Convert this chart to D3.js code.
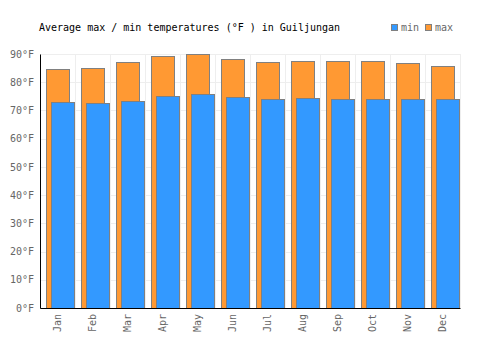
<!DOCTYPE html>
<html>
<head>
<meta charset="utf-8">
<script src="https://cdn.jsdelivr.net/npm/d3@7"></script>
<style>
  body { margin: 0; background: #fff; }
  text { font-family: "DejaVu Sans Mono", monospace; font-size: 10px; }
</style>
</head>
<body>
<div id="chart"></div>
<script>
const months = ["Jan", "Feb", "Mar", "Apr", "May", "Jun", "Jul", "Aug", "Sep", "Oct", "Nov", "Dec"];
const maxTemps = [84.6, 84.9, 87.1, 89.2, 89.9, 88.1, 87.1, 87.4, 87.4, 87.4, 86.7, 85.6];
const minTemps = [72.9, 72.5, 73.2, 75.0, 75.7, 74.7, 74.0, 74.3, 74.0, 74.0, 74.0, 74.0];
const yTicks = [0, 10, 20, 30, 40, 50, 60, 70, 80, 90];

const margin = { top: 54, right: 40, bottom: 42, left: 40 },
  width = 500 - margin.left - margin.right,
  height = 350 - margin.top - margin.bottom;

const svg = d3
  .select("#chart")
  .append("svg")
  .attr("width", 500)
  .attr("height", 350);

// title + legend
svg.append("text").attr("x", 39).attr("y", 31).attr("fill", "#000")
  .text("Average max / min temperatures (°F ) in Guiljungan");

const legend = [
  { name: "min", color: "#3399ff", x: 391 },
  { name: "max", color: "#ff9933", x: 425 }
];
legend.forEach((l) => {
  svg.append("rect").attr("x", l.x + 0.5).attr("y", 24.5).attr("width", 6).attr("height", 6)
    .attr("fill", l.color).attr("stroke", "#808080");
  svg.append("text").attr("x", l.x + 10).attr("y", 31).attr("fill", "#666").text(l.name);
});

const g = svg.append("g").attr("transform", `translate(${margin.left}, ${margin.top})`);

const x = d3.scaleBand().domain(months).range([0, width]);
const y = d3.scaleLinear().domain([0, 90]).range([height, 0]);

// grid
g.append("g").selectAll("line").data(yTicks).enter().append("line")
  .attr("x1", 0).attr("x2", width)
  .attr("y1", (d) => Math.round(y(d)) + 0.5).attr("y2", (d) => Math.round(y(d)) + 0.5)
  .attr("stroke", "#eeeeee");
g.append("g").selectAll("line").data(months).enter().append("line")
  .attr("x1", (d) => Math.round(x(d) + x.bandwidth()) + 0.5)
  .attr("x2", (d) => Math.round(x(d) + x.bandwidth()) + 0.5)
  .attr("y1", 0).attr("y2", height)
  .attr("stroke", "#eeeeee");

// max bars (behind)
g.append("g").selectAll("rect").data(months).enter().append("rect")
  .attr("x", (d) => Math.round(x(d)) + 6.5)
  .attr("width", 23)
  .attr("y", (d, i) => Math.round(y(maxTemps[i])) + 0.5)
  .attr("height", (d, i) => height - Math.round(y(maxTemps[i])))
  .attr("fill", "#ff9933").attr("stroke", "#808080");

// min bars (front)
g.append("g").selectAll("rect").data(months).enter().append("rect")
  .attr("x", (d) => Math.round(x(d)) + 11.5)
  .attr("width", 23)
  .attr("y", (d, i) => Math.round(y(minTemps[i])) + 0.5)
  .attr("height", (d, i) => height - Math.round(y(minTemps[i])))
  .attr("fill", "#3399ff").attr("stroke", "#808080");

// axes
const yAxis = g.append("g")
  .call(d3.axisLeft(y).tickValues(yTicks).tickSize(0).tickPadding(6).tickFormat((d) => d + "°F"));
yAxis.select(".domain").attr("stroke", "#000");
yAxis.selectAll("text").attr("fill", "#666").style("font-size", "10px")
  .style("font-family", '"DejaVu Sans Mono", monospace');

const xAxis = g.append("g").attr("transform", `translate(0,${height})`)
  .call(d3.axisBottom(x).tickSize(0));
xAxis.select(".domain").attr("stroke", "#000");
xAxis.selectAll("text")
  .attr("fill", "#666").style("font-size", "10px")
  .style("font-family", '"DejaVu Sans Mono", monospace')
  .attr("text-anchor", "end")
  .attr("transform", "rotate(-90)")
  .attr("x", -6).attr("y", 0).attr("dy", ".35em");
</script>
</body>
</html>
